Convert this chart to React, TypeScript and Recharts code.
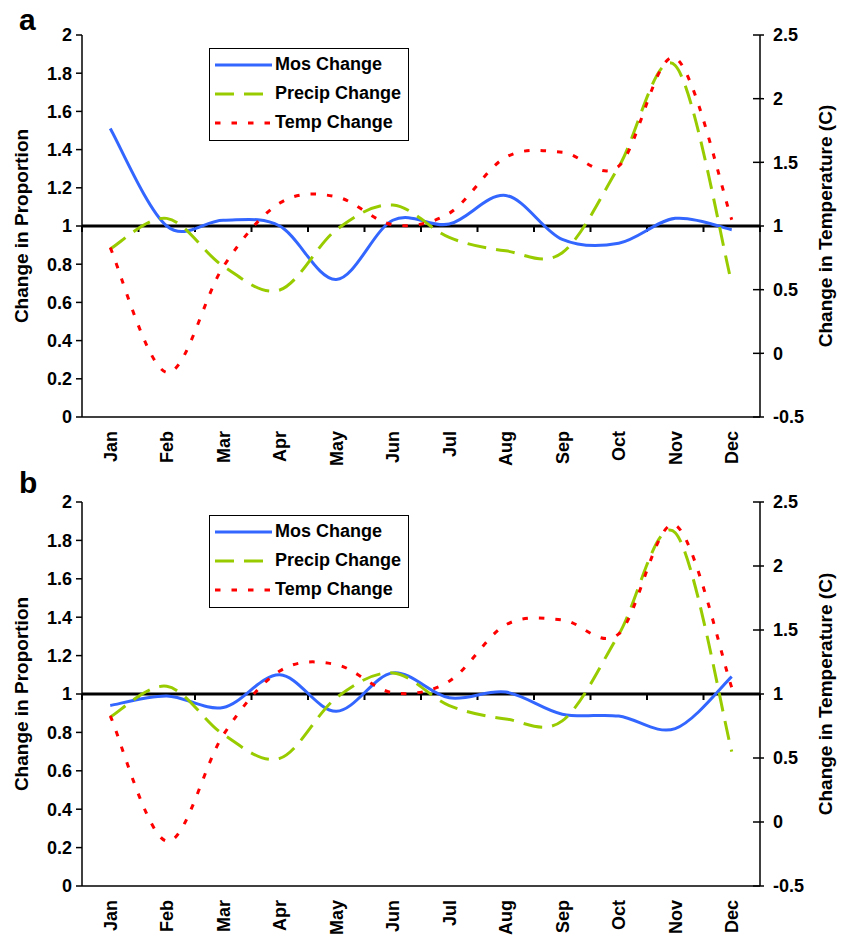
import React from 'react'
import { LineChart, Line, XAxis, YAxis, Legend, ReferenceLine } from 'recharts'

const MONTHS = ['Jan', 'Feb', 'Mar', 'Apr', 'May', 'Jun', 'Jul', 'Aug', 'Sep', 'Oct', 'Nov', 'Dec']
const MOS_A = [1.51, 1.0, 1.03, 1.0, 0.72, 1.03, 1.01, 1.16, 0.93, 0.91, 1.04, 0.98]
const MOS_B = [0.94, 0.99, 0.93, 1.1, 0.91, 1.11, 0.98, 1.01, 0.895, 0.885, 0.82, 1.09]
const PRECIP = [0.88, 1.04, 0.79, 0.665, 0.98, 1.11, 0.94, 0.87, 0.86, 1.31, 1.84, 0.7]
const TEMP = [0.83, -0.15, 0.68, 1.18, 1.23, 1.01, 1.1, 1.54, 1.58, 1.47, 2.32, 1.05]

const LEFT_TICKS = [0, 0.2, 0.4, 0.6, 0.8, 1, 1.2, 1.4, 1.6, 1.8, 2]
const RIGHT_TICKS = [-0.5, 0, 0.5, 1, 1.5, 2, 2.5]

const SERIES = [
  { key: 'mos', name: 'Mos Change', color: '#3366ff', dash: undefined, axis: 'left' },
  { key: 'precip', name: 'Precip Change', color: '#99cc00', dash: '19 10', axis: 'left' },
  { key: 'temp', name: 'Temp Change', color: '#ff0000', dash: '5.5 11', axis: 'right' },
]

const FONT = '"Liberation Sans", Arial, sans-serif'

// excel-style smoothed line (catmull-rom through the points)
function excelSmooth(context: any) {
  let pts: number[][] = []
  return {
    areaStart() {},
    areaEnd() {},
    lineStart() { pts = [] },
    point(x: number, y: number) { pts.push([+x, +y]) },
    lineEnd() {
      if (!pts.length) return
      context.moveTo(pts[0][0], pts[0][1])
      for (let i = 0; i < pts.length - 1; i++) {
        const p0 = pts[Math.max(i - 1, 0)]
        const p1 = pts[i]
        const p2 = pts[i + 1]
        const p3 = pts[Math.min(i + 2, pts.length - 1)]
        context.bezierCurveTo(
          p1[0] + (p2[0] - p0[0]) / 6, p1[1] + (p2[1] - p0[1]) / 6,
          p2[0] - (p3[0] - p1[0]) / 6, p2[1] - (p3[1] - p1[1]) / 6,
          p2[0], p2[1],
        )
      }
    },
  }
}

const MonthTick = ({ x, y, payload }: any) => (
  <text x={x} y={y} dy="0.36em" transform={`rotate(-90 ${x} ${y})`} textAnchor="end"
    fill="#000" fontSize={18} fontWeight="bold" fontFamily={FONT}>
    {payload.value}
  </text>
)

// right axis ticks cross the axis line
const RightTick = ({ x, y, payload }: any) => (
  <g>
    <line x1={x - 20} x2={x - 9} y1={y} y2={y} stroke="#000" strokeWidth={1.5} />
    <text x={x} y={y} dy="0.36em" textAnchor="start" fill="#000" fontSize={18} fontWeight="bold" fontFamily={FONT}>
      {payload.value}
    </text>
  </g>
)

// the category axis crosses at 1: thick line with tick marks between months
const CrossAxis = (p: any) => {
  const { x1, x2, y1 } = p
  const n = MONTHS.length
  const marks = Array.from({ length: n + 1 }, (_, i) => x1 + ((x2 - x1) * i) / n)
  return (
    <g>
      <line x1={x1} x2={x2} y1={y1} y2={y1} stroke="#000" strokeWidth={3} />
      {marks.map((mx, i) => (
        <line key={i} x1={mx} x2={mx} y1={y1} y2={y1 + 6} stroke="#000" strokeWidth={2} />
      ))}
    </g>
  )
}

const LegendBox = () => (
  <div style={{ border: '1.5px solid #000', background: '#fff', width: 200, height: 93, boxSizing: 'border-box', paddingLeft: 5, paddingTop: 1 }}>
    {SERIES.map(s => (
      <div key={s.key} style={{ display: 'flex', alignItems: 'center', height: 29 }}>
        <svg width={60} height={10} style={{ flex: 'none' }}>
          <line x1={0} x2={57} y1={5} y2={5} stroke={s.color} strokeWidth={3} strokeDasharray={s.dash} />
        </svg>
        <span style={{ fontSize: 18, fontWeight: 'bold', fontFamily: FONT, color: '#000', whiteSpace: 'nowrap' }}>{s.name}</span>
      </div>
    ))}
  </div>
)

const axisTitle = (text: string, dx: number) => ({
  content: (p: any) => {
    const vb = p.viewBox
    const cx = vb.x + dx
    const cy = vb.y + vb.height / 2
    return (
      <text x={cx} y={cy} dy="0.36em" transform={`rotate(-90 ${cx} ${cy})`} textAnchor="middle"
        fill="#000" fontSize={19} fontWeight="bold" fontFamily={FONT}>
        {text}
      </text>
    )
  },
})

function Panel({ letter, mos, top, xAxisHeight }: { letter: string; mos: number[]; top: number; xAxisHeight: number }) {
  const data = MONTHS.map((m, i) => ({ month: m, mos: mos[i], precip: PRECIP[i], temp: TEMP[i] }))
  const tickStyle = { fill: '#000', fontSize: 18, fontWeight: 'bold', fontFamily: FONT }
  return (
    <div style={{ position: 'absolute', left: 0, top, width: 847, height: 470 }}>
      <div style={{ position: 'absolute', left: 19, top: letter === 'a' ? 5 : 1, font: `bold 30px ${FONT}`, lineHeight: '30px' }}>{letter}</div>
      <LineChart width={847} height={470} data={data} margin={{ top: 35, right: 0, bottom: 0, left: 0 }}>
        <XAxis dataKey="month" scale="band" height={xAxisHeight} tick={<MonthTick />} tickLine={false}
          tickSize={0} tickMargin={14} interval={0} axisLine={{ stroke: '#000', strokeWidth: 1.5 }} />
        <XAxis xAxisId="top" dataKey="month" scale="band" orientation="top" height={0} tick={false}
          tickLine={false} axisLine={{ stroke: '#000', strokeWidth: 1.5 }} />
        <YAxis yAxisId="left" domain={[0, 2]} ticks={LEFT_TICKS} width={82} tick={tickStyle} tickMargin={4}
          axisLine={{ stroke: '#000', strokeWidth: 1.5 }} tickLine={{ stroke: '#000', strokeWidth: 1.5 }}
          label={axisTitle('Change in Proportion', 21)} />
        <YAxis yAxisId="right" orientation="right" domain={[-0.5, 2.5]} ticks={RIGHT_TICKS} width={87} tick={<RightTick />}
          tickLine={false} tickSize={6} tickMargin={7} axisLine={{ stroke: '#000', strokeWidth: 1.5 }}
          label={axisTitle('Change in Temperature (C)', 65)} />
        <ReferenceLine yAxisId="left" y={1} shape={<CrossAxis />} />
        {SERIES.map(s => (
          <Line key={s.key} yAxisId={s.axis} dataKey={s.key} name={s.name} type={excelSmooth as any} stroke={s.color}
            strokeWidth={3} strokeDasharray={s.dash} dot={false} activeDot={false} isAnimationActive={false} />
        ))}
        <Legend layout="vertical" align="center" verticalAlign="middle" content={<LegendBox />}
          wrapperStyle={{ left: 209, top: 48, width: 200, height: 93 }} />
      </LineChart>
    </div>
  )
}

export default function App() {
  return (
    <div style={{ position: 'absolute', left: 0, top: 0, width: 847, height: 937, background: '#fff', fontFamily: FONT }}>
      <Panel letter="a" mos={MOS_A} top={0} xAxisHeight={53} />
      <Panel letter="b" mos={MOS_B} top={467} xAxisHeight={51} />
    </div>
  )
}
